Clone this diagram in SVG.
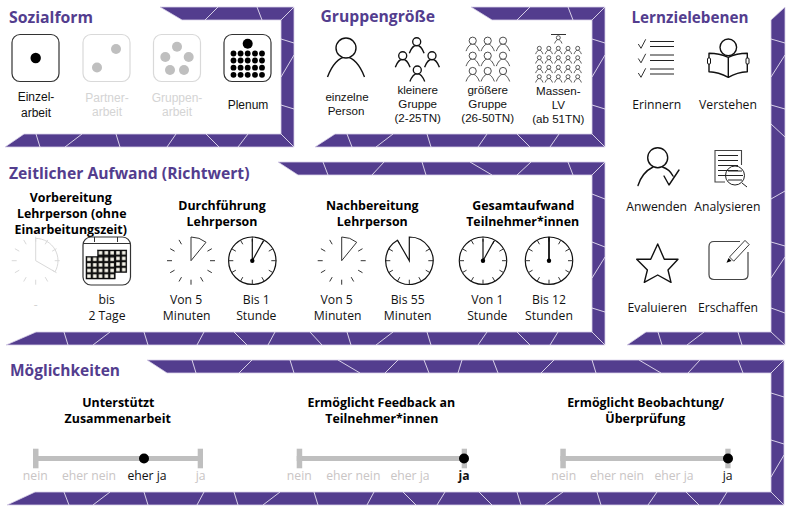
<svg xmlns="http://www.w3.org/2000/svg" xmlns:xlink="http://www.w3.org/1999/xlink" width="786" height="507" viewBox="0 0 786 507">
<style>
.frame{fill:#533d8e;stroke:#d9d2ea;stroke-width:.8}
.cuts{fill:none;stroke:#e6e1f2;stroke-width:.9}
text{font-family:"Open Sans","Noto Sans","Liberation Sans",sans-serif;font-size:12.2px;fill:#111;text-anchor:middle}
#sozialform text{font-family:"Liberation Sans",Arial,sans-serif;font-size:12px}
#gruppengroesse text{font-family:"Liberation Sans",Arial,sans-serif;font-size:11.6px}
#sozialform text.title,#gruppengroesse text.title,.title{font-family:"Open Sans","Noto Sans",sans-serif;font-size:15.6px;font-weight:700;fill:#533d8e;text-anchor:start}
.head{font-size:12.4px;font-weight:700;fill:#000}
.off{fill:#d4d4d4}
#sozialform text.off{fill:#d4d4d4}
.scale{fill:#c9c5c5}
.die{fill:#fff;stroke:#333;stroke-width:1.2}
.dieoff{fill:#fff;stroke:#d9d9d9;stroke-width:1.2}
.dotoff{fill:#bfbfbf}
.ln{fill:none;stroke:#111;stroke-width:1.4;stroke-linecap:round;stroke-linejoin:round}
.tk{fill:none;stroke:#333;stroke-width:1}
.tkoff{fill:none;stroke:#d9d9d9;stroke-width:1}
.bar{fill:#bfbfbf}
.wedge{fill:#fff;stroke:#333;stroke-width:1}
.face{fill:#fff;stroke:#111;stroke-width:1.2}
</style>
<defs>
<g id="person"><path d="M-18.5,29C-14,17-7,9 0,9S14,17 18.5,29" fill="none"/><circle r="10" fill="#fff"/></g>
<path id="t10" d="M16.45-9.5L20.8-12M19 0H24M16.45 9.5L20.8 12M9.5 16.45L12 20.8M0 19V24M-9.5 16.45L-12 20.8M-16.45 9.5L-20.8 12M-19 0H-24M-16.45-9.5L-20.8-12M-9.5-16.45L-12-20.8"/>
<path id="t12" d="M0-19V-24M9.5-16.45L12-20.8M16.45-9.5L20.8-12M19 0H24M16.45 9.5L20.8 12M9.5 16.45L12 20.8M0 19V24M-9.5 16.45L-12 20.8M-16.45 9.5L-20.8 12M-19 0H-24M-16.45-9.5L-20.8-12M-9.5-16.45L-12-20.8"/>
<g id="face"><circle r="23.7" class="face"/><use xlink:href="#t12" class="tk"/></g>
<pattern id="cell" width="5.8" height="5.6" patternUnits="userSpaceOnUse"><rect width="5.8" height="5.6" fill="#111"/><rect x="1.2" y="1.1" width="3.5" height="3.4" fill="#f7f5ea"/></pattern>
<g id="wedge30"><use xlink:href="#t10" class="tk"/><path d="M0,0V-23.7A23.7,23.7 0 0 1 15,-18.4Z" class="wedge"/></g>
<g id="p5" stroke="#222" stroke-width="3.6"><use xlink:href="#person" transform="scale(.2)"/></g>
<g id="row5"><use xlink:href="#p5" x="-19"/><use xlink:href="#p5" x="-9.5"/><use xlink:href="#p5"/><use xlink:href="#p5" x="9.7"/><use xlink:href="#p5" x="19.4"/></g>
<g id="p9" stroke="#333" stroke-width="2.4"><use xlink:href="#person" transform="scale(.36)"/></g>
<g id="p4" stroke="#111" stroke-width="3.4"><use xlink:href="#person" transform="scale(.4)"/></g>
</defs>

<g id="frames">
<path class="frame" d="M160,7H294V147H5L24,134H281V20H182Z"/>
<path class="cuts" d="M205,20L218,7M257,7L262,20M281,20L294,7M281,39L294,43M281,77L294,55M281,105L294,109M281,134L294,147M36,134L40,147M65,147L82,134M116,134L120,147M167,147L176,134M206,134L219,147M238,147L248,134"/>
<path class="frame" d="M471,7H605V147H315L335,134H592V20H492Z"/>
<path class="cuts" d="M517,20L530,7M568,7L573,20M592,20L605,7M592,39L605,43M592,77L605,55M592,105L605,109M592,134L605,147M347,134L352,147M376,147L393,134M427,134L431,147M478,147L487,134M517,134L530,147M550,147L559,134"/>
<path class="frame" d="M785,7V345H627L646,332H771V20Z"/>
<path class="cuts" d="M771,39L785,43M771,77L785,55M771,105L785,109M771,124L785,137M771,199L785,191M771,242L785,246M771,278L785,257M771,308L785,313M771,332L785,345M658,332L662,345M687,345L704,332M738,332L742,345"/>
<path class="frame" d="M278,162H605V345H6L36,332H592V175H298Z"/>
<path class="cuts" d="M323,162L328,175M372,175L384,162M422,162L426,175M470,162L492,175M517,175L531,162M568,162L573,175M592,175L605,162M592,194L605,199M592,242L605,247M592,278L605,257M592,308L605,312M592,332L605,345M310,332L322,345M347,332L351,345M376,345L393,332M427,332L431,345M478,345L487,332M517,332L530,345M550,345L558,332M64,332L68,345M93,345L110,332M144,332L148,345M197,345L204,332M234,332L247,345M268,345L275,332"/>
<path class="frame" d="M147,360H784V505H7L35,492H771V373H167Z"/>
<path class="cuts" d="M192,360L196,373M239,373L252,360M290,360L294,373M338,360L360,373M385,373L398,360M424,360L429,373M458,373L462,360M493,360L498,373M541,373L554,360M592,360L596,373M639,360L661,373M688,373L700,360M738,360L743,373M771,373L784,360M771,393L784,397M771,440L784,444M771,477L784,455M771,492L784,505M403,492L416,505M437,505L445,492M479,492L492,505M517,492L521,505M545,505L563,492M597,492L601,505M648,505L657,492M686,492L699,505M719,505L727,492M64,492L69,505M93,505L110,492M144,492L148,505M197,505L204,492M234,492L238,505M263,505L280,492M314,492L318,505M367,505L374,492"/>
</g>

<g id="sozialform">
<text class="title" x="9" y="23" textLength="84" lengthAdjust="spacingAndGlyphs">Sozialform</text>
<g id="einzelarbeit"><rect class="die" x="12" y="34.5" width="47" height="47" rx="8"/><circle cx="35.7" cy="58" r="5.2"/><text x="36" y="101">Einzel-</text><text x="36" y="117">arbeit</text></g>
<g id="partnerarbeit"><rect class="dieoff" x="83" y="34.5" width="47" height="47" rx="8"/><circle class="dotoff" cx="116" cy="49" r="5"/><circle class="dotoff" cx="97" cy="67.5" r="5"/><text class="off" x="107" y="102">Partner-</text><text class="off" x="107" y="116">arbeit</text></g>
<g id="gruppenarbeit"><rect class="dieoff" x="153.5" y="34.5" width="47" height="47" rx="8"/><g class="dotoff"><circle cx="177" cy="46.7" r="5"/><circle cx="165.3" cy="57" r="5"/><circle cx="188.7" cy="57" r="5"/><circle cx="170" cy="70" r="5"/><circle cx="184" cy="70" r="5"/></g><text class="off" x="177" y="102">Gruppen-</text><text class="off" x="177" y="116">arbeit</text></g>
<g id="plenum"><rect class="die" x="224" y="34.5" width="47" height="47" rx="8"/><circle cx="247.7" cy="43.7" r="5"/>
<g id="plenum-dots"><circle cx="233.5" cy="53.5" r="2.9"/><circle cx="240.6" cy="53.5" r="2.9"/><circle cx="247.7" cy="53.5" r="2.9"/><circle cx="255" cy="53.5" r="2.9"/><circle cx="262" cy="53.5" r="2.9"/><circle cx="233.5" cy="60.5" r="2.9"/><circle cx="240.6" cy="60.5" r="2.9"/><circle cx="247.7" cy="60.5" r="2.9"/><circle cx="255" cy="60.5" r="2.9"/><circle cx="262" cy="60.5" r="2.9"/><circle cx="233.5" cy="67.7" r="2.9"/><circle cx="240.6" cy="67.7" r="2.9"/><circle cx="247.7" cy="67.7" r="2.9"/><circle cx="255" cy="67.7" r="2.9"/><circle cx="262" cy="67.7" r="2.9"/><circle cx="233.5" cy="74.8" r="2.9"/><circle cx="240.6" cy="74.8" r="2.9"/><circle cx="247.7" cy="74.8" r="2.9"/><circle cx="255" cy="74.8" r="2.9"/><circle cx="262" cy="74.8" r="2.9"/></g>
<text x="248" y="109">Plenum</text></g>
</g>

<g id="gruppengroesse">
<text class="title" x="320.5" y="22" textLength="114.5" lengthAdjust="spacingAndGlyphs">Gruppengröße</text>
<g id="einzelne"><use xlink:href="#person" transform="translate(346,48)" stroke="#111" stroke-width="1.4"/><text x="347" y="101">einzelne</text><text x="346" y="115">Person</text></g>
<g id="kleinere"><use xlink:href="#p4" x="416.7" y="41.7"/><use xlink:href="#p4" x="402.7" y="55.7"/><use xlink:href="#p4" x="432" y="55.7"/><use xlink:href="#p4" x="417.3" y="70"/><text x="417.7" y="94">kleinere</text><text x="417.7" y="108">Gruppe</text><text x="417.7" y="122">(2-25TN)</text></g>
<g id="groessere"><use xlink:href="#p9" x="472.7" y="40.7"/><use xlink:href="#p9" x="487.7" y="40.7"/><use xlink:href="#p9" x="503" y="40.7"/><use xlink:href="#p9" x="472.7" y="55.7"/><use xlink:href="#p9" x="487.7" y="55.7"/><use xlink:href="#p9" x="503" y="55.7"/><use xlink:href="#p9" x="472.7" y="71"/><use xlink:href="#p9" x="487.7" y="71"/><use xlink:href="#p9" x="503" y="71"/><text x="487.7" y="94">größere</text><text x="487.7" y="108">Gruppe</text><text x="487.7" y="122">(26-50TN)</text></g>
<g id="massen"><path d="M551,34.5H566" stroke="#333" stroke-width="1"/><use xlink:href="#p5" x="558.3" y="37.7"/><use xlink:href="#row5" x="558.3" y="48.3"/><use xlink:href="#row5" x="558.3" y="57.7"/><use xlink:href="#row5" x="558.3" y="67.3"/><use xlink:href="#row5" x="558.3" y="76.7"/><text x="558.3" y="95">Massen-</text><text x="558.3" y="109">LV</text><text x="558.3" y="123">(ab 51TN)</text></g>
</g>

<g id="lernzielebenen">
<text class="title" x="631.5" y="22.5" textLength="117" lengthAdjust="spacingAndGlyphs">Lernzielebenen</text>
<g id="erinnern"><path d="M650,41.5H674M650,46.5H674M650,55H674M650,60.5H674M650,69H674M650,74H674" fill="none" stroke="#222" stroke-width="1"/><path d="M638.3,44L641,48.3L645.7,39.3M638.3,58.5L641,62.8L645.7,53.8M638.3,73L641,77.3L645.7,68.3" fill="none" stroke="#333" stroke-width="1"/><text x="656.7" y="108.5">Erinnern</text></g>
<g id="verstehen"><circle class="ln" cx="728.3" cy="47.3" r="8.3"/><path class="ln" d="M728.3,57.3C722,54.5 715,53.3 709,53.3V71.7C716,72 722,74 728.3,77.3C734,74 741,72 747.3,71.7V53.3C741,53.3 734,54.5 728.3,57.3V77.3"/><rect x="707.5" y="58" width="3" height="6" rx="1" fill="#fff" stroke="#111"/><rect x="746" y="58" width="3" height="6" rx="1" fill="#fff" stroke="#111"/><text x="728" y="108.5">Verstehen</text></g>
<g id="anwenden"><circle class="ln" cx="657.7" cy="157.7" r="10"/><path class="ln" d="M638,185.5C641,176 647,170 653,167M662.5,167C667,168.5 671,172 673,176M664,176L669,185L679,170"/><text x="656.7" y="210.5">Anwenden</text></g>
<g id="analysieren"><path d="M741.5,165V150.5H715V182H725" fill="none" stroke="#444" stroke-width="1.1"/><path d="M718,155.5H738M718,160.5H738M718,165.5H738M718,170.5H738M718,175.5H728" stroke="#222" stroke-width="1" fill="none"/><circle cx="735" cy="175.5" r="9.5" fill="none" stroke="#222" stroke-width="1"/><path d="M728,171H742M727,175.5H743M728,180H742M742,183L747,187" stroke="#222" stroke-width="1" fill="none"/><text x="727.3" y="210.5">Analysieren</text></g>
<g id="evaluieren"><path class="ln" d="M657.7,244L664.3,259.3H678L668,270L671,282.3L657.7,275L644.3,282.3L647.4,270L636.7,259.3H650.7Z"/><text x="657.3" y="311.5">Evaluieren</text></g>
<g id="erschaffen"><path d="M740,241.5H714Q709,241.5 709,246.5V274.5Q709,279.5 714,279.5H743Q748,279.5 748,274.5V252" fill="none" stroke="#444" stroke-width="1.2"/><path d="M729.5,257L745,240.4L749.2,244.6L733.7,261.2Z" fill="#fff" stroke="#222" stroke-width=".9"/><path d="M726.5,262.7L728.6,258L731.5,261Z" fill="#000"/><text x="728" y="311.5">Erschaffen</text></g>
</g>

<g id="zeitlicher-aufwand">
<text class="title" x="9" y="179" textLength="240.5" lengthAdjust="spacingAndGlyphs">Zeitlicher Aufwand (Richtwert)</text>
<g id="vorbereitung"><text class="head" x="70.7" y="201.7">Vorbereitung</text><text class="head" x="71.7" y="217.7">Lehrperson (ohne</text><text class="head" x="70.7" y="234">Einarbeitungszeit)</text>
<g transform="translate(35.7,260.7)"><use xlink:href="#t12" class="tkoff"/><path d="M0,0V-22.3A22.3,22.3 0 0 1 19.3,11.15Z" fill="none" stroke="#d9d9d9" stroke-width="1"/></g><text class="off" x="35.7" y="309">-</text>
<g id="kalender"><rect class="die" x="83" y="237" width="47.5" height="48" rx="8"/><path d="M83,243.5H130.5M94.5,237V242M117.5,237V242" stroke="#333" stroke-width="1" fill="none"/><rect transform="translate(97.6,250)" width="29.2" height="22.5" fill="url(#cell)" stroke="#000" stroke-width=".5"/><rect transform="translate(86,256.5)" width="29.2" height="22.5" fill="url(#cell)" stroke="#000" stroke-width=".5"/></g>
<text x="106.7" y="303.5">bis</text><text x="107" y="320">2 Tage</text></g>
<g id="durchfuehrung"><text class="head" x="222" y="210">Durchführung</text><text class="head" x="222" y="225.7">Lehrperson</text>
<use xlink:href="#wedge30" x="191" y="260.7"/><use xlink:href="#face" x="252.3" y="260.7"/><path d="M252.3,239V260.7L263.3,241" fill="none" stroke="#111" stroke-width="1.2"/><circle cx="252.3" cy="260.7" r="2.2"/>
<text x="186" y="303.5">Von 5</text><text x="186.7" y="320">Minuten</text><text x="256.3" y="303.5">Bis 1</text><text x="256.3" y="320">Stunde</text></g>
<g id="nachbereitung"><text class="head" x="372.3" y="210">Nachbereitung</text><text class="head" x="372.3" y="225.7">Lehrperson</text>
<use xlink:href="#t10" x="409.3" y="260.7" class="tk"/><path d="M409.3,260.7V237A23.7,23.7 0 1 1 397.5,240.2Z" fill="none" stroke="#111" stroke-width="1.2"/>
<use xlink:href="#wedge30" x="341.7" y="260.7"/>
<text x="336.7" y="303.5">Von 5</text><text x="337.7" y="320">Minuten</text><text x="407.7" y="303.5">Bis 55</text><text x="407.7" y="320">Minuten</text></g>
<g id="gesamtaufwand"><text class="head" x="523.3" y="210">Gesamtaufwand</text><text class="head" x="522.7" y="225.7">Teilnehmer*innen</text>
<use xlink:href="#face" x="483" y="260.7"/><path d="M483,239V260.7L494,241" fill="none" stroke="#111" stroke-width="1.2"/><circle cx="483" cy="260.7" r="2.2"/>
<use xlink:href="#face" x="549" y="260.7"/><path d="M549,260.7V237" fill="none" stroke="#111" stroke-width="1.8"/><circle cx="549" cy="260.7" r="2.2"/>
<text x="487.3" y="303.5">Von 1</text><text x="487.3" y="320">Stunde</text><text x="549" y="303.5">Bis 12</text><text x="549" y="320">Stunden</text></g>
</g>

<g id="moeglichkeiten">
<text class="title" x="10" y="375.7" textLength="110" lengthAdjust="spacingAndGlyphs">Möglichkeiten</text>
<g id="zusammenarbeit"><text class="head" x="118.3" y="406.7">Unterstützt</text><text class="head" x="117.7" y="422.7">Zusammenarbeit</text>
<rect class="bar" x="33" y="456" width="170" height="5"/><rect class="bar" x="33" y="448.7" width="5.5" height="19.6"/><rect class="bar" x="197.7" y="448.7" width="5.3" height="19.6"/><circle cx="144" cy="458.5" r="5"/>
<text class="scale" x="35.3" y="480">nein</text><text class="scale" x="89" y="480">eher nein</text><text x="147" y="480" fill="#000">eher ja</text><text class="scale" x="200.7" y="480">ja</text></g>
<g id="feedback"><text class="head" x="381.3" y="406.7">Ermöglicht Feedback an</text><text class="head" x="381.8" y="422.7">Teilnehmer*innen</text>
<rect class="bar" x="296.7" y="456" width="170" height="5"/><rect class="bar" x="296.7" y="448.7" width="5.5" height="19.6"/><rect class="bar" x="461.7" y="448.7" width="5.3" height="19.6"/><circle cx="464" cy="458.5" r="5"/>
<text class="scale" x="299.3" y="480">nein</text><text class="scale" x="353.3" y="480">eher nein</text><text class="scale" x="410" y="480">eher ja</text><text x="464" y="480" style="font-weight:700">ja</text></g>
<g id="beobachtung"><text class="head" x="645.7" y="406.7">Ermöglicht Beobachtung/</text><text class="head" x="645.3" y="422.7">Überprüfung</text>
<rect class="bar" x="560.3" y="456" width="170" height="5"/><rect class="bar" x="560.3" y="448.7" width="5.5" height="19.6"/><rect class="bar" x="725.3" y="448.7" width="5.3" height="19.6"/><circle cx="728" cy="458.5" r="5"/>
<text class="scale" x="563.7" y="480">nein</text><text class="scale" x="617" y="480">eher nein</text><text class="scale" x="674" y="480">eher ja</text><text x="727.7" y="480">ja</text></g>
</g>
</svg>
